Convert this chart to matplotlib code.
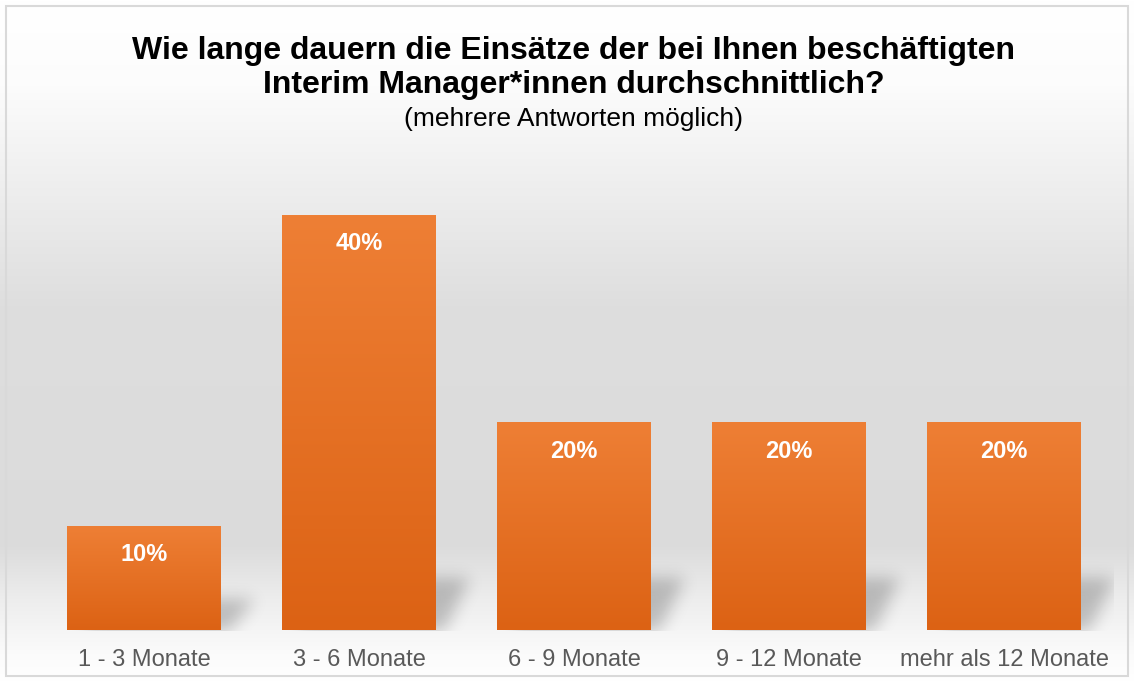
import matplotlib
matplotlib.use("Agg")
import matplotlib.pyplot as plt
import numpy as np
from matplotlib.colors import LinearSegmentedColormap
from matplotlib.patches import Rectangle

categories = ["1 - 3 Monate", "3 - 6 Monate", "6 - 9 Monate", "9 - 12 Monate", "mehr als 12 Monate"]
values = [10, 40, 20, 20, 20]
title_text = "Wie lange dauern die Einsätze der bei Ihnen beschäftigten\nInterim Manager*innen durchschnittlich?"
subtitle_text = "(mehrere Antworten möglich)"

plt.rcParams['font.family'] = ['Liberation Sans', 'DejaVu Sans']

W, H = 1134, 682
fig = plt.figure(figsize=(W / 100, H / 100), dpi=100)

# main axes geometry (pixels)
left_px, right_px = 36.5, 1111.5
bottom_px, top_px = 630, 150
px_per_unit = 10.37
bw = 0.716
ncat = len(categories)

def x_to_px(x):
    return left_px + (x + 0.5) / ncat * (right_px - left_px)

# background gradient
bg = fig.add_axes([0, 0, 1, 1])
bg.set_axis_off()
ys = np.linspace(0, 1, H)
stops_y = [0.0, 0.12, 0.45, 0.80, 0.88, 0.96, 1.0]
stops_v = [1.0, 0.99, 0.87, 0.86, 0.93, 0.985, 1.0]
col = np.interp(ys, stops_y, stops_v)
img = np.repeat(col[:, None], 2, axis=1)
bg.imshow(np.dstack([img, img, img]), aspect='auto', extent=[0, 1, 0, 1], origin='upper', zorder=0)

# soft shadows, computed in pixel space
mask = np.zeros((H, W))
yy, xx = np.mgrid[0:H, 0:W]
for i, v in enumerate(values):
    xl = x_to_px(i - bw / 2)
    xr = x_to_px(i + bw / 2)
    hpx = v * px_per_unit
    sh = min(0.3 * hpx, 52)
    t = (bottom_px - yy) / sh  # 0 at bottom, 1 at top
    inside = (t >= 0) & (t <= 1)
    lo = xl + 15 + 25 * t
    hi = xr + 8 + 25 * t
    mask[inside & (xx >= lo) & (xx <= hi)] = 1.0

def blur1d(a, sigma, axis):
    r = int(3 * sigma)
    k = np.exp(-0.5 * (np.arange(-r, r + 1) / sigma) ** 2)
    k /= k.sum()
    return np.apply_along_axis(lambda m: np.convolve(m, k, mode='same'), axis, a)

mask = blur1d(blur1d(mask, 8, 0), 8, 1)
mask[yy > bottom_px] = 0
mask[xx > right_px + 2] = 0
shadow = np.zeros((H, W, 4))
shadow[..., 3] = mask * 0.22
bg.imshow(shadow, aspect='auto', extent=[0, 1, 0, 1], origin='upper', zorder=1)
bg.set_xlim(0, 1)
bg.set_ylim(0, 1)
bg.add_patch(Rectangle((6 / W, 6 / H), 1 - 12 / W, 1 - 12 / H, fill=False,
                       edgecolor='#d9d9d9', linewidth=1.5, zorder=2))

ax = fig.add_axes([left_px / W, 1 - bottom_px / H, (right_px - left_px) / W, (bottom_px - top_px) / H])
ymax = (bottom_px - top_px) / px_per_unit
ax.patch.set_alpha(0)
for s in ax.spines.values():
    s.set_visible(False)
ax.set_yticks([])
ax.set_xticks(range(ncat))
ax.set_xticklabels(categories, fontsize=17, color='#595959')
ax.tick_params(axis='x', length=0, pad=14)

cmap = LinearSegmentedColormap.from_list('o', ['#dc6214', '#ee7f35'])
grad = np.linspace(0, 1, 256)[:, None]

bars = ax.bar(range(ncat), values, width=bw, color='none', zorder=2)
for i, (b, v) in enumerate(zip(bars, values)):
    x0 = b.get_x()
    ax.imshow(grad, cmap=cmap, aspect='auto', origin='lower',
              extent=[x0, x0 + bw, 0, v], zorder=3)
    ax.text(i, v - 2.75, f"{v}%", ha='center', va='center', color='white',
            fontsize=17, fontweight='bold', zorder=4)
ax.set_xlim(-0.5, ncat - 0.5)
ax.set_ylim(0, ymax)

fig.text(574 / W, 1 - 68 / H, title_text, ha='center', va='center', fontsize=23,
         fontweight='bold', color='black', linespacing=1.2)
fig.text(574 / W, 1 - 119 / H, subtitle_text, ha='center', va='center', fontsize=19, color='black')

fig.savefig('out.png', dpi=100)
